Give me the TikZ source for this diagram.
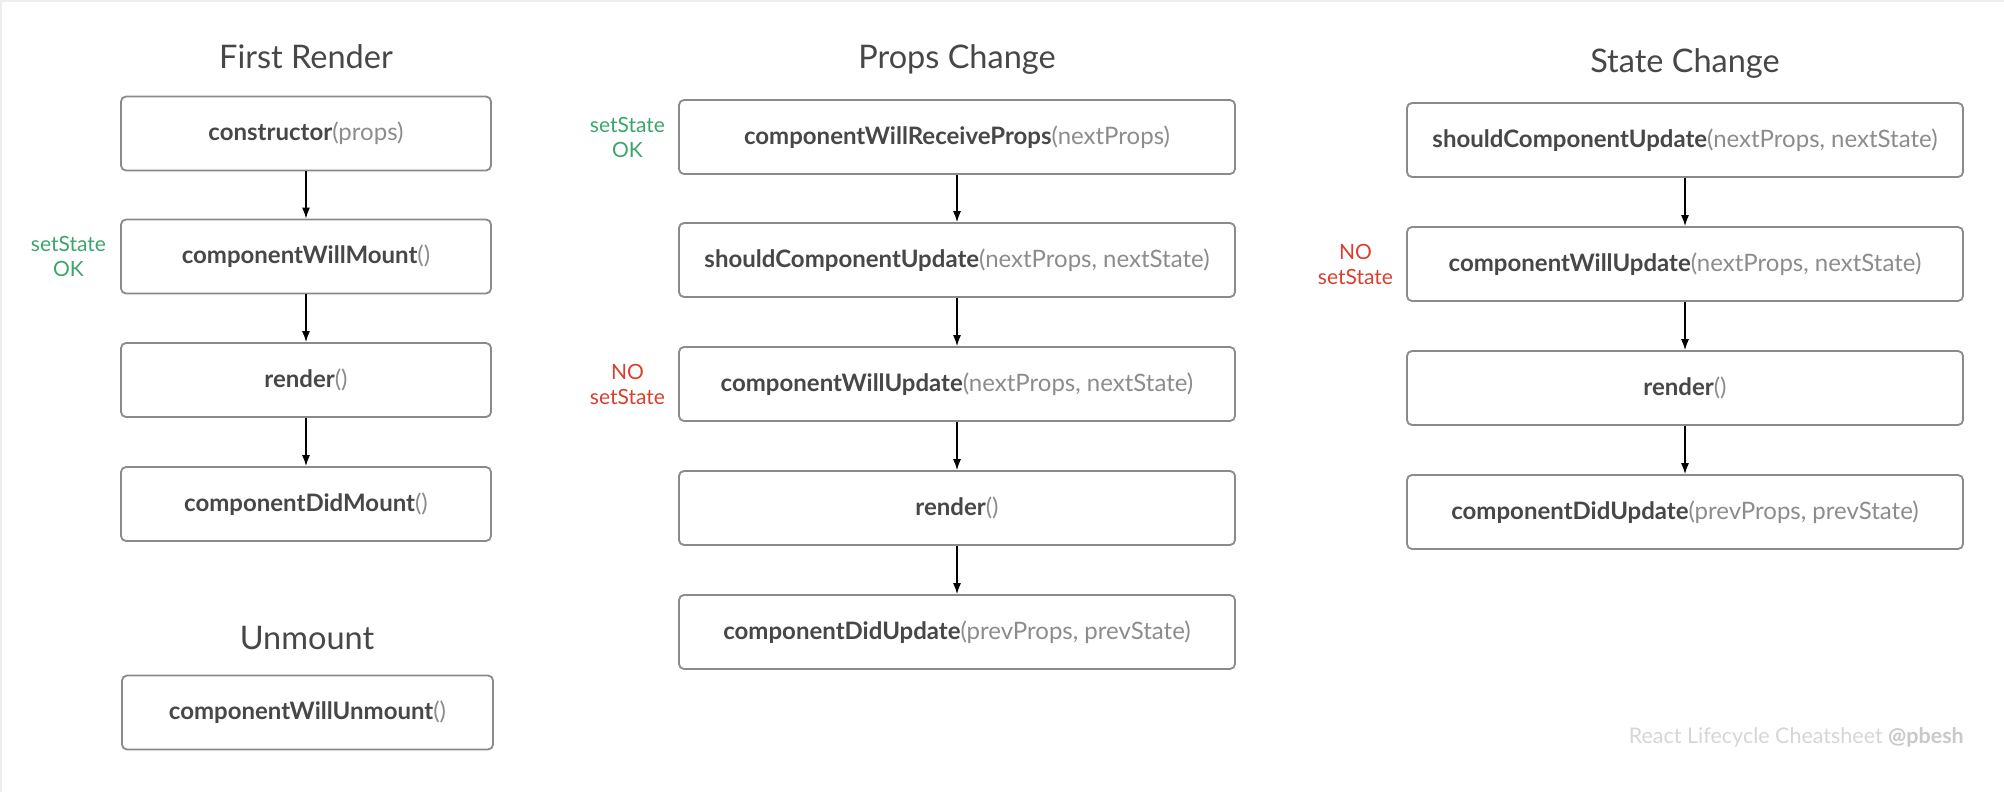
\documentclass[tikz,border=0pt]{standalone}
\usepackage{fontspec}
\setmainfont{Lato}
\usetikzlibrary{arrows.meta}
\definecolor{boxline}{HTML}{8A8A8A}
\definecolor{txt}{HTML}{474747}
\definecolor{param}{HTML}{8C8C8C}
\definecolor{okgreen}{HTML}{3DA56C}
\definecolor{nored}{HTML}{D8402F}
\definecolor{foot}{HTML}{D6D6D6}
\definecolor{footb}{HTML}{C9C9C9}
\definecolor{frameline}{HTML}{EEEEEE}
\tikzset{
  x=1pt, y=-1pt,
  fnbox/.style={draw=boxline, line width=1.8pt, rounded corners=5pt, fill=white,
    minimum height=74pt, inner sep=0pt, font=\fontsize{24}{28}\selectfont, text=txt},
  wbox/.style={fnbox, minimum width=556pt},
  nbox/.style={fnbox, minimum width=370pt},
  ttl/.style={font=\fontsize{32.5}{38}\selectfont, text=txt, anchor=base},
  side/.style={font=\fontsize{21}{25}\selectfont, align=center, anchor=east, inner sep=0pt},
  flow/.style={-{Latex[length=11pt,width=8pt]}, line width=1.3pt, black},
}
\newcommand{\fn}[2]{\textbf{#1}\textcolor{param}{(#2)}}
\begin{document}
\begin{tikzpicture}
\useasboundingbox (0,0) rectangle (2004,792);
\fill[white] (0,0) rectangle (2004,792);
\draw[frameline, line width=2pt] (1,792) -- (1,1) -- (2004,1);

% First Render
\node[ttl] (t1) at (306,69) {First Render};
\node[nbox] (a1) at (306,133.5) {\fn{constructor}{props}};
\node[nbox] (a2) at (306,256.5) {\fn{componentWillMount}{}};
\node[nbox] (a3) at (306,380) {\fn{render}{}};
\node[nbox] (a4) at (306,504) {\fn{componentDidMount}{}};
\node[side, text=okgreen] (s1) at ([xshift=-14pt]a2.west) {setState\\OK};
\draw[flow] (a1) -- (a2);
\draw[flow] (a2) -- (a3);
\draw[flow] (a3) -- (a4);

% Unmount
\node[ttl] (t2) at (307,649) {Unmount};
\node[nbox, minimum width=371pt] (u1) at (307.5,712.5) {\fn{componentWillUnmount}{}};

% Props Change
\node[ttl] (t3) at (957,69) {Props Change};
\node[wbox] (b1) at (957,137) {\fn{componentWillReceiveProps}{nextProps}};
\node[wbox] (b2) at (957,260) {\fn{shouldComponentUpdate}{nextProps, nextState}};
\node[wbox] (b3) at (957,384) {\fn{componentWillUpdate}{nextProps, nextState}};
\node[wbox] (b4) at (957,508) {\fn{render}{}};
\node[wbox] (b5) at (957,632) {\fn{componentDidUpdate}{prevProps, prevState}};
\node[side, text=okgreen] (s2) at ([xshift=-13pt]b1.west) {setState\\OK};
\node[side, text=nored] (s3) at ([xshift=-13pt]b3.west) {NO\\setState};
\draw[flow] (b1) -- (b2);
\draw[flow] (b2) -- (b3);
\draw[flow] (b3) -- (b4);
\draw[flow] (b4) -- (b5);

% State Change
\node[ttl] (t4) at (1685,72) {State Change};
\node[wbox] (c1) at (1685,140) {\fn{shouldComponentUpdate}{nextProps, nextState}};
\node[wbox] (c2) at (1685,264) {\fn{componentWillUpdate}{nextProps, nextState}};
\node[wbox] (c3) at (1685,388) {\fn{render}{}};
\node[wbox] (c4) at (1685,512) {\fn{componentDidUpdate}{prevProps, prevState}};
\node[side, text=nored] (s4) at ([xshift=-13pt]c2.west) {NO\\setState};
\draw[flow] (c1) -- (c2);
\draw[flow] (c2) -- (c3);
\draw[flow] (c3) -- (c4);

% footer
\node[anchor=east, inner sep=0pt, font=\fontsize{21.5}{25}\selectfont, text=foot] (ft) at (1964,737)
  {React Lifecycle Cheatsheet \textcolor{footb}{\textbf{@pbesh}}};
\end{tikzpicture}
\end{document}
